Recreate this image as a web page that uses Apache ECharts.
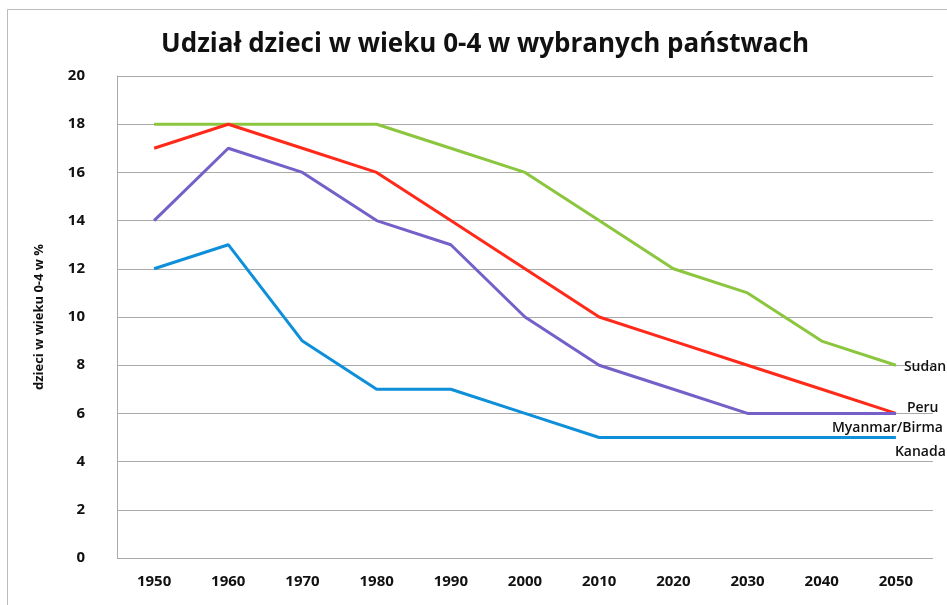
<!DOCTYPE html>
<html>
<head>
<meta charset="utf-8">
<script src="https://cdn.jsdelivr.net/npm/echarts@6/dist/echarts.min.js"></script>
<style>
  html, body { margin: 0; padding: 0; background: #fff; }
  #chart { width: 947px; height: 605px; }
</style>
</head>
<body>
<div id="chart"></div>
<script>
// lata (oś X)
var years = ['1950', '1960', '1970', '1980', '1990', '2000', '2010', '2020', '2030', '2040', '2050'];
// udział dzieci 0-4 w %
var sudan = [18, 18, 18, 18, 17, 16, 14, 12, 11, 9, 8];
var peru = [17, 18, 17, 16, 14, 12, 10, 9, 8, 7, 6];
var myanmar = [14, 17, 16, 14, 13, 10, 8, 7, 6, 6, 6];
var kanada = [12, 13, 9, 7, 7, 6, 5, 5, 5, 5, 5];

var font = '"Open Sans", sans-serif';

function line(name, data, color, offset) {
  return {
    name: name,
    type: 'line',
    data: data,
    symbol: 'none',
    lineStyle: { color: color, width: 3 },
    itemStyle: { color: color },
    endLabel: {
      show: true,
      formatter: name,
      fontFamily: font,
      fontSize: 14,
      fontWeight: 600,
      color: '#111',
      offset: offset
    }
  };
}

var chart = echarts.init(document.getElementById('chart'));
chart.setOption({
  animation: false,
  title: {
    text: 'Udział dzieci w wieku 0-4 w wybranych państwach',
    left: 480,
    textAlign: 'center',
    top: 27,
    textStyle: { fontFamily: font, fontSize: 26, fontWeight: 'bold', color: '#111' }
  },
  graphic: [{
    type: 'rect',
    shape: { x: 7.5, y: 9.5, width: 960, height: 620 },
    style: { fill: 'none', stroke: '#bbb', lineWidth: 1 }
  }],
  grid: { left: 117, right: 14, top: 76, bottom: 47 },
  xAxis: {
    type: 'category',
    data: years,
    boundaryGap: true,
    axisLine: { show: false },
    axisTick: { show: false },
    axisLabel: { fontFamily: font, fontSize: 15, fontWeight: 'bold', color: '#111', margin: 16 }
  },
  yAxis: {
    type: 'value',
    min: 0,
    max: 20,
    interval: 2,
    name: 'dzieci w wieku 0-4 w %',
    nameLocation: 'middle',
    nameGap: 71,
    nameTextStyle: { fontFamily: font, fontSize: 13, fontWeight: 'bold', color: '#111' },
    axisLine: { show: true, lineStyle: { color: '#aaa' } },
    axisTick: { show: false },
    axisLabel: { fontFamily: font, fontSize: 15, fontWeight: 'bold', color: '#111', margin: 32, align: 'right' },
    splitLine: { lineStyle: { color: '#aaa' } }
  },
  series: [
    line('Sudan', sudan, '#8cc63f', [0, 2]),
    line('Peru', peru, '#ff2a1a', [3, -5]),
    line('Myanmar/Birma', myanmar, '#7460c8', [-72, 15]),
    line('Kanada', kanada, '#0e8fd9', [-9, 15])
  ]
});
</script>
</body>
</html>
